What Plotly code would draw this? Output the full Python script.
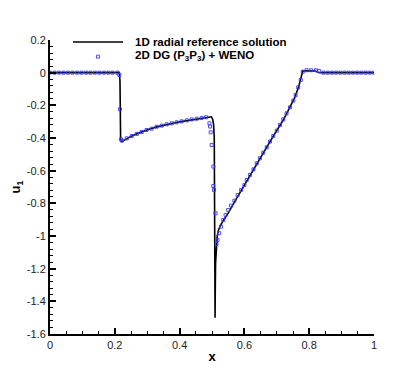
import plotly.graph_objects as go

# Reference solution (line)
ref_x = [0.0, 0.214, 0.216, 0.217, 0.218, 0.222, 0.23, 0.24, 0.25, 0.27, 0.29, 0.31, 0.33, 0.35,
         0.37, 0.39, 0.41, 0.43, 0.45, 0.47, 0.485, 0.492, 0.498, 0.502, 0.505, 0.507, 0.508,
         0.509, 0.5095, 0.510, 0.511, 0.513, 0.516, 0.520, 0.525, 0.535, 0.55, 0.57, 0.60,
         0.63, 0.66, 0.69, 0.72, 0.74, 0.755, 0.767, 0.776, 0.780, 0.79, 0.82, 0.83, 1.0]
ref_y = [0.0, 0.0, -0.05, -0.30, -0.415, -0.422, -0.412, -0.400, -0.390, -0.372, -0.356, -0.344,
         -0.332, -0.322, -0.313, -0.305, -0.298, -0.291, -0.285, -0.279, -0.272, -0.268, -0.270,
         -0.285, -0.32, -0.40, -0.70, -1.20, -1.50, -1.35, -1.17, -1.06, -1.00, -0.965, -0.94,
         -0.905, -0.86, -0.79, -0.688, -0.59, -0.485, -0.385, -0.29, -0.215, -0.155, -0.09,
         -0.02, 0.010, 0.012, 0.010, 0.0, 0.0]

# 2D DG (P3P3) + WENO (scatter)
dg_x = [0.0, 0.0139, 0.0277, 0.0416, 0.0555, 0.0693, 0.0832, 0.0971, 0.111, 0.1248, 0.1387,
        0.1526, 0.1664, 0.1803, 0.193, 0.208, 0.214, 0.216, 0.219, 0.222,
        0.237, 0.252, 0.268, 0.283, 0.298, 0.314, 0.329, 0.345, 0.360, 0.376, 0.391, 0.406,
        0.422, 0.437, 0.453, 0.468, 0.482, 0.492, 0.494, 0.496, 0.499, 0.504, 0.504, 0.506,
        0.511, 0.514, 0.517, 0.522, 0.528, 0.535, 0.542, 0.550, 0.559, 0.569, 0.579, 0.590,
        0.600, 0.607, 0.617, 0.628, 0.638, 0.648, 0.658, 0.669, 0.679, 0.689, 0.700, 0.710,
        0.720, 0.730, 0.741, 0.751, 0.758, 0.766, 0.774, 0.780, 0.792, 0.806, 0.821, 0.831,
        0.844, 0.857, 0.870, 0.883, 0.896, 0.909, 0.922, 0.935, 0.948, 0.961, 0.974, 0.987, 1.0]
dg_y = [0.0, 0.0, 0.0, 0.0, 0.0, 0.0, 0.0, 0.0, 0.0, 0.0, 0.0,
        0.0, 0.0, 0.0, 0.0, 0.0, -0.014, -0.224, -0.408, -0.416,
        -0.402, -0.388, -0.375, -0.363, -0.351, -0.343, -0.331, -0.324, -0.316, -0.310, -0.304,
        -0.298, -0.292, -0.286, -0.282, -0.277, -0.273, -0.31, -0.33, -0.365, -0.443, -0.575,
        -0.694, -0.718, -0.861, -1.049, -1.025, -0.983, -0.943, -0.902, -0.871, -0.841, -0.814,
        -0.784, -0.749, -0.718, -0.688, -0.657, -0.626, -0.592, -0.555, -0.524, -0.490, -0.457,
        -0.422, -0.388, -0.355, -0.320, -0.286, -0.249, -0.212, -0.171, -0.137, -0.090, -0.045,
        0.006, 0.015, 0.015, 0.015, 0.010, 0.0, 0.0, 0.0, 0.0, 0.0, 0.0, 0.0, 0.0, 0.0, 0.0,
        0.0, 0.0, 0.0]

x_ticks = [0, 0.2, 0.4, 0.6, 0.8, 1.0]
x_labels = ["0", "0.2", "0.4", "0.6", "0.8", "1"]
y_ticks = [0.2, 0, -0.2, -0.4, -0.6, -0.8, -1.0, -1.2, -1.4, -1.6]
y_labels = ["0.2", "0", "-0.2", "-0.4", "-0.6", "-0.8", "-1", "-1.2", "-1.4", "-1.6"]

FONT = "Liberation Sans, Arial, sans-serif"
BLUE = "#3a3aff"
MARK = dict(symbol="square-open", size=3, color=BLUE, line=dict(width=0.9, color=BLUE))

fig = go.Figure()
fig.add_trace(go.Scatter(x=ref_x, y=ref_y, mode="lines", name="1D radial reference solution",
                         line=dict(color="black", width=1.6), showlegend=False))
fig.add_trace(go.Scatter(x=dg_x, y=dg_y, mode="markers", name="2D DG (P3P3) + WENO",
                         marker=MARK, showlegend=False))

# manual legend (Tecplot style)
fig.add_shape(type="line", xref="paper", yref="paper", x0=23/324, x1=73/324,
              y0=(334-42)/294, y1=(334-42)/294, line=dict(color="black", width=1.6))
fig.add_trace(go.Scatter(x=[0.148], y=[0.098], mode="markers", showlegend=False,
                         hoverinfo="skip", marker=MARK))
fig.add_annotation(xref="paper", yref="paper", x=83/324, y=(334-42)/294, xanchor="left",
                   yanchor="middle", showarrow=False, text="<b>1D radial reference solution</b>",
                   font=dict(family=FONT, size=11.5, color="black"))
fig.add_annotation(xref="paper", yref="paper", x=83/324, y=(334-56)/294, xanchor="left",
                   yanchor="middle", showarrow=False,
                   text="<b>2D DG (P<sub>3</sub>P<sub>3</sub>) + WENO</b>",
                   font=dict(family=FONT, size=11.5, color="black"))

fig.update_layout(
    width=419, height=371,
    margin=dict(l=42, r=53, t=32, b=45),
    paper_bgcolor="white", plot_bgcolor="white",
    font=dict(family=FONT, size=11, color="black"),
    xaxis=dict(range=[0, 1], tickvals=x_ticks, ticktext=x_labels, ticks="inside",
               ticklen=6, tickwidth=1.5, tickcolor="black", showline=True, linewidth=2,
               linecolor="black", showgrid=False, zeroline=False, mirror=False,
               automargin=False,
               minor=dict(dtick=0.05, ticks="inside", ticklen=3, tickwidth=1, tickcolor="black",
                          showgrid=False),
               title=dict(text="<b>x</b>", font=dict(family=FONT, size=13), standoff=2),
               tickfont=dict(family=FONT, size=11, color="#222")),
    yaxis=dict(range=[-1.6, 0.2], tickvals=y_ticks, ticktext=y_labels, ticks="inside",
               ticklen=6, tickwidth=1.5, tickcolor="black", showline=True, linewidth=2,
               linecolor="black", showgrid=False, zeroline=False, mirror=False,
               automargin=False,
               minor=dict(dtick=0.04, tick0=0, ticks="inside", ticklen=3, tickwidth=1,
                          tickcolor="black", showgrid=False),
               title=dict(text="<b>u<sub>1</sub></b>", font=dict(family=FONT, size=13),
                          standoff=4),
               tickfont=dict(family=FONT, size=11, color="#222")),
)

fig.write_html("out.html")
